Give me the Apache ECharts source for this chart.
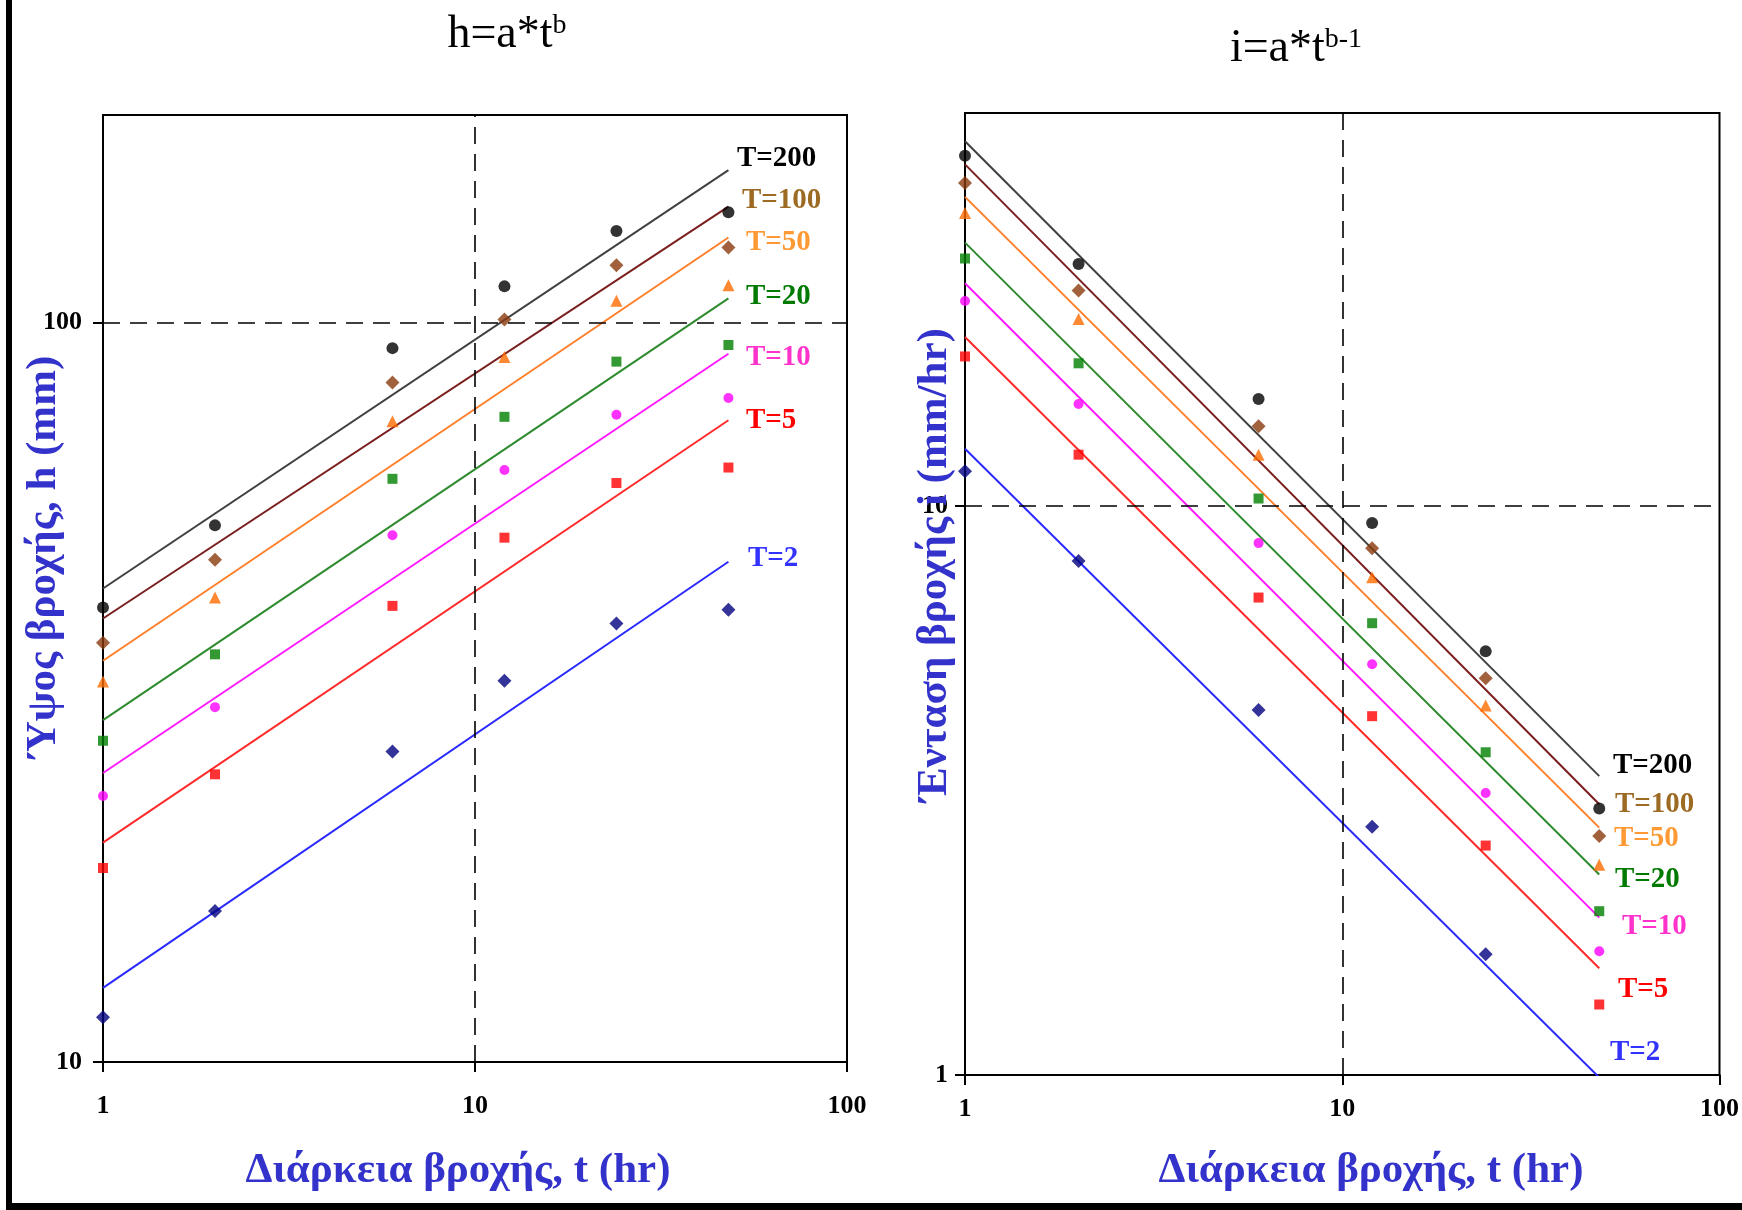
<!DOCTYPE html>
<html>
<head>
<meta charset="utf-8">
<script src="https://cdn.jsdelivr.net/npm/echarts@6/dist/echarts.min.js"></script>
<style>
  html, body { margin: 0; padding: 0; background: #ffffff; }
  #chart { width: 1742px; height: 1210px; }
</style>
</head>
<body>
<div id="chart"></div>
<script>
// Rainfall depth-duration and intensity-duration curves for several return periods

const durations = [1, 2, 6, 12, 24, 48];
const returnPeriods = ['T=200', 'T=100', 'T=50', 'T=20', 'T=10', 'T=5', 'T=2'];

// Observed rainfall depth h (mm)
const depthT200 = [41.2, 53.2, 92.4, 112.0, 133.1, 141.1];
const depthT100 = [36.9, 47.8, 83.0, 101.0, 119.6, 126.4];
const depthT50  = [32.7, 42.5, 73.6, 89.9, 107.1, 112.4];
const depthT20  = [27.2, 35.6, 61.5, 74.6, 88.6, 93.3];
const depthT10  = [22.9, 30.2, 51.6, 63.2, 75.1, 79.1];
const depthT5   = [18.3, 24.5, 41.4, 51.2, 60.7, 63.7];
const depthT2   = [11.5, 16.0, 26.3, 32.8, 39.2, 40.9];

// Observed rainfall intensity i (mm/hr)
const intensityT200 = [41.2, 26.6, 15.4, 9.33, 5.55, 2.94];
const intensityT100 = [36.9, 23.9, 13.8, 8.42, 4.98, 2.63];
const intensityT50  = [32.7, 21.3, 12.3, 7.49, 4.46, 2.34];
const intensityT20  = [27.2, 17.8, 10.3, 6.22, 3.69, 1.94];
const intensityT10  = [22.9, 15.1, 8.6, 5.27, 3.13, 1.65];
const intensityT5   = [18.3, 12.3, 6.9, 4.27, 2.53, 1.33];
const intensityT2   = [11.5, 8.0, 4.38, 2.73, 1.63, 0.85];

// Fitted power-law lines, values at the first and last duration
const fitDurations = [1, 48];
const depthFitStart = [43.7, 39.8, 34.9, 29.0, 24.6, 19.8, 12.6];
const depthFitEnd   = [160.9, 143.6, 130.4, 107.9, 90.8, 73.8, 47.5];
const intensityFitStart = [43.7, 39.8, 34.9, 29.0, 24.6, 19.8, 12.6];
const intensityFitEnd   = [3.35, 2.99, 2.72, 2.25, 1.89, 1.54, 0.99];

// Axis tick values
const durationTicks = [1, 10, 100];
const depthTicks = [10, 100];
const intensityTicks = [1, 10];

const depthSets = [depthT200, depthT100, depthT50, depthT20, depthT10, depthT5, depthT2];
const intensitySets = [intensityT200, intensityT100, intensityT50, intensityT20, intensityT10, intensityT5, intensityT2];

// Styling per return period
const markerColors = ['#000000', '#8b3a0c', '#ff6a00', '#008000', '#ff00ff', '#ff0000', '#000080'];
const lineColors   = ['#404040', '#7a1e1e', '#ff7f2a', '#2e8b2e', '#ff1aff', '#ff2a2a', '#2a2aff'];
const labelColors  = ['#000000', '#9c6a22', '#ff9933', '#007a00', '#ff33cc', '#ff0000', '#3333ff'];
const markerShapes = ['circle', 'diamond', 'triangle', 'rect', 'circle', 'rect', 'diamond'];
const markerSizes  = [12, 14, 12, 10, 10, 10, 14];

const SERIF = '"Liberation Serif", "Times New Roman", serif';
const AXIS_BLUE = '#3333cc';

const chart = echarts.init(document.getElementById('chart'), null, { renderer: 'canvas' });

function isDecade(v) {
  const l = Math.log10(v);
  return Math.abs(l - Math.round(l)) < 1e-6;
}

function logAxis(min, max, ticks, labelMargin) {
  return {
    type: 'log',
    logBase: 10,
    min: min,
    max: max,
    axisLine: { show: true, onZero: false, lineStyle: { color: '#000', width: 2 } },
    axisTick: { show: true, inside: false, length: 10, customValues: ticks, lineStyle: { color: '#000', width: 2 } },
    axisLabel: {
      show: true,
      customValues: ticks,
      margin: labelMargin,
      color: '#000',
      fontFamily: SERIF,
      fontWeight: 'bold',
      fontSize: 26,
      showMinLabel: true,
      showMaxLabel: true,
      formatter: function (v) { return isDecade(v) ? String(Math.round(v)) : ''; }
    },
    splitLine: { show: false },
    minorTick: { show: false },
    minorSplitLine: { show: false }
  };
}

const guideLineStyle = { color: '#000', width: 1.6, type: [17, 10] };

const series = [];
for (let k = 0; k < returnPeriods.length; k++) {
  // depth panel
  series.push({
    name: returnPeriods[k] + ' fit h',
    type: 'line',
    xAxisIndex: 0, yAxisIndex: 0,
    data: fitDurations.map((t, j) => [t, j === 0 ? depthFitStart[k] : depthFitEnd[k]]),
    showSymbol: false, symbol: 'none',
    lineStyle: { color: lineColors[k], width: 2 },
    silent: true, animation: false, z: 3
  });
  const scatterH = {
    name: returnPeriods[k] + ' h',
    type: 'scatter',
    xAxisIndex: 0, yAxisIndex: 0,
    data: durations.map((t, i) => [t, depthSets[k][i]]),
    symbol: markerShapes[k],
    symbolSize: markerSizes[k],
    itemStyle: { color: markerColors[k] },
    animation: false, z: 4
  };
  if (k === 0) {
    scatterH.markLine = {
      silent: true, symbol: 'none', animation: false,
      label: { show: false },
      lineStyle: guideLineStyle,
      data: [{ xAxis: 10 }, { yAxis: 100 }]
    };
  }
  series.push(scatterH);

  // intensity panel
  series.push({
    name: returnPeriods[k] + ' fit i',
    type: 'line',
    xAxisIndex: 1, yAxisIndex: 1,
    data: fitDurations.map((t, j) => [t, j === 0 ? intensityFitStart[k] : intensityFitEnd[k]]),
    showSymbol: false, symbol: 'none',
    lineStyle: { color: lineColors[k], width: 2 },
    silent: true, animation: false, z: 3
  });
  const scatterI = {
    name: returnPeriods[k] + ' i',
    type: 'scatter',
    xAxisIndex: 1, yAxisIndex: 1,
    data: durations.map((t, i) => [t, intensitySets[k][i]]),
    symbol: markerShapes[k],
    symbolSize: markerSizes[k],
    itemStyle: { color: markerColors[k] },
    animation: false, z: 4
  };
  if (k === 0) {
    scatterI.markLine = {
      silent: true, symbol: 'none', animation: false,
      label: { show: false },
      lineStyle: guideLineStyle,
      data: [{ xAxis: 10 }, { yAxis: 10 }]
    };
  }
  series.push(scatterI);
}

// Curve labels placed beside the line ends
const depthLabelPos = [[737, 159], [742, 201], [746, 243], [746, 297], [746, 358], [746, 421], [748, 559]];
const intensityLabelPos = [[1613, 766], [1615, 805], [1614, 839], [1615, 880], [1622, 927], [1618, 990], [1610, 1053]];

const graphics = [];
// frame edges
graphics.push({ type: 'rect', shape: { x: 6, y: 0, width: 6, height: 1210 }, style: { fill: '#000' }, silent: true });
graphics.push({ type: 'rect', shape: { x: 6, y: 1203, width: 1736, height: 7 }, style: { fill: '#000' }, silent: true });

// titles with superscript exponents
graphics.push({
  type: 'text', x: 507, y: 35,
  style: {
    text: '{m|h=a*t}{s|b}',
    align: 'center', verticalAlign: 'middle',
    rich: {
      m: { font: '46px ' + SERIF, fill: '#000', verticalAlign: 'bottom', lineHeight: 46 },
      s: { font: '28px ' + SERIF, fill: '#000', verticalAlign: 'top', lineHeight: 46 }
    }
  },
  silent: true
});
graphics.push({
  type: 'text', x: 1296, y: 49,
  style: {
    text: '{m|i=a*t}{s|b-1}',
    align: 'center', verticalAlign: 'middle',
    rich: {
      m: { font: '46px ' + SERIF, fill: '#000', verticalAlign: 'bottom', lineHeight: 46 },
      s: { font: '28px ' + SERIF, fill: '#000', verticalAlign: 'top', lineHeight: 46 }
    }
  },
  silent: true
});

// axis names
graphics.push({
  type: 'text', x: 44, y: 557, rotation: Math.PI / 2,
  style: { text: 'Ύψος βροχής, h (mm)', font: 'bold 43px ' + SERIF, fill: AXIS_BLUE, align: 'center', verticalAlign: 'middle' },
  silent: true, z: 10
});
graphics.push({
  type: 'text', x: 935, y: 565, rotation: Math.PI / 2,
  style: { text: 'Ένταση βροχής i (mm/hr)', font: 'bold 43px ' + SERIF, fill: AXIS_BLUE, align: 'center', verticalAlign: 'middle' },
  silent: true, z: 10
});
graphics.push({
  type: 'text', x: 458, y: 1171,
  style: { text: 'Διάρκεια βροχής, t (hr)', font: 'bold 43px ' + SERIF, fill: AXIS_BLUE, align: 'center', verticalAlign: 'middle' },
  silent: true
});
graphics.push({
  type: 'text', x: 1371, y: 1171,
  style: { text: 'Διάρκεια βροχής, t (hr)', font: 'bold 43px ' + SERIF, fill: AXIS_BLUE, align: 'center', verticalAlign: 'middle' },
  silent: true
});

for (let k = 0; k < returnPeriods.length; k++) {
  graphics.push({
    type: 'text', x: depthLabelPos[k][0], y: depthLabelPos[k][1],
    style: { text: returnPeriods[k], font: 'bold 29px ' + SERIF, fill: labelColors[k], align: 'left', verticalAlign: 'middle' },
    silent: true, z: 10
  });
  graphics.push({
    type: 'text', x: intensityLabelPos[k][0], y: intensityLabelPos[k][1],
    style: { text: returnPeriods[k], font: 'bold 29px ' + SERIF, fill: labelColors[k], align: 'left', verticalAlign: 'middle' },
    silent: true, z: 10
  });
}

const option = {
  backgroundColor: '#ffffff',
  animation: false,
  grid: [
    { left: 103, top: 115, width: 744, height: 947, show: true, borderColor: '#000', borderWidth: 2, backgroundColor: 'transparent', containLabel: false },
    { left: 965, top: 113, width: 758, height: 962, show: true, borderColor: '#000', borderWidth: 2, backgroundColor: 'transparent', containLabel: false }
  ],
  xAxis: [
    Object.assign(logAxis(1, 100, durationTicks, 31), { gridIndex: 0, position: 'bottom' }),
    Object.assign(logAxis(1, 100, durationTicks, 21), { gridIndex: 1, position: 'bottom' })
  ],
  yAxis: [
    Object.assign(logAxis(10, 191, depthTicks, 21), { gridIndex: 0, position: 'left' }),
    Object.assign(logAxis(1, 49, intensityTicks, 17), { gridIndex: 1, position: 'left' })
  ],
  series: series,
  graphic: { elements: graphics }
};

chart.setOption(option);
</script>
</body>
</html>
